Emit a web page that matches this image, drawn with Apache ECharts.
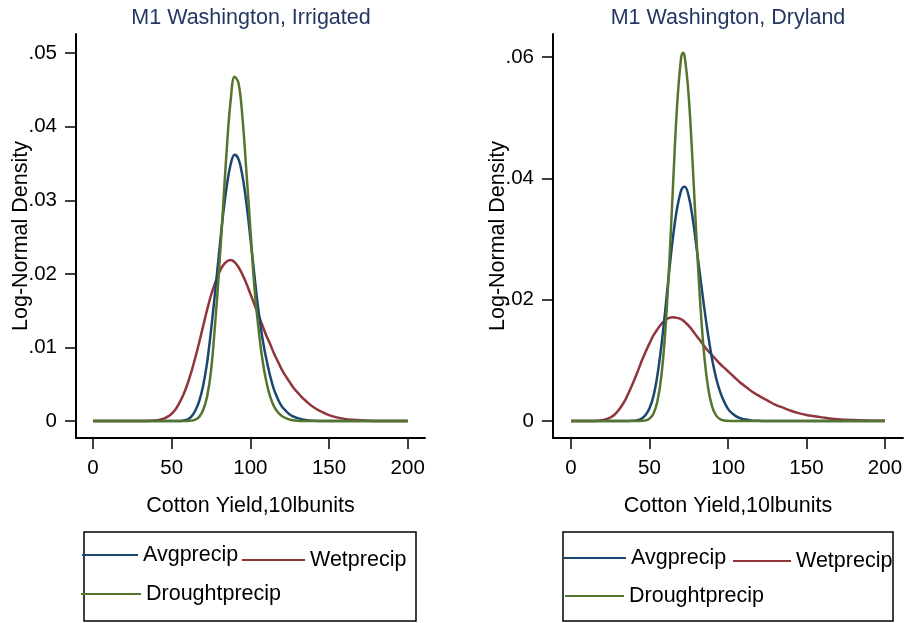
<!DOCTYPE html>
<html lang="en">
<head>
    <meta charset="UTF-8">
    <title>M1 Washington cotton yield densities</title>
    <style>
        * { padding: 0; margin: 0; }
        body { background: #fff; }
    </style>
    <script src="https://cdn.jsdelivr.net/npm/echarts@6/dist/echarts.min.js"></script>
</head>
<body>
    <div id="main" style="width: 907px; height: 623px;"></div>
    <script type="text/javascript">
        // x values (cotton yield, 10 lb units) for the irrigated panel
        var leftX = [0, 10, 20, 30, 35, 40, 42.5, 45, 47.5, 50, 52.5, 55, 57.5, 60, 62.5, 65, 67.5, 70, 72.5, 75,
            77.5, 80, 82.5, 85, 87.5, 90, 92.5, 95, 97.5, 100, 102.5, 105, 107.5, 110, 112.5, 115, 117.5, 120,
            122.5, 125, 127.5, 130, 132.5, 135, 140, 145, 150, 155, 160, 165, 170, 175, 180, 190, 200];
        var leftAvg = [0, 0, 0, 0, 0, 0, 0, 0, 0, 0, 0, 0, 0.00008, 0.0002, 0.0006, 0.0014, 0.0027, 0.0048, 0.0079, 0.0123,
            0.0173, 0.0226, 0.0277, 0.0319, 0.0349, 0.0362, 0.0356, 0.0333, 0.0296, 0.0249, 0.0200, 0.0153, 0.0115, 0.0086, 0.0062, 0.0043, 0.0030, 0.0020,
            0.0014, 0.0009, 0.0006, 0.0004, 0.00025, 0.00015, 0.00005, 0, 0, 0, 0, 0, 0, 0, 0, 0, 0];
        var leftWet = [0, 0, 0, 0, 0.00001, 0.00008, 0.00017, 0.00033, 0.0006, 0.0010, 0.0016, 0.0025, 0.0036, 0.0050, 0.0067, 0.0086, 0.0107, 0.0129, 0.0151, 0.0171,
            0.0187, 0.0201, 0.0211, 0.0217, 0.0219, 0.0216, 0.0209, 0.0199, 0.0187, 0.0173, 0.0159, 0.0145, 0.0131, 0.0117, 0.0105, 0.0092, 0.0081, 0.0070,
            0.0061, 0.0053, 0.0045, 0.0039, 0.0033, 0.0028, 0.0019, 0.0013, 0.0008, 0.0005, 0.0003, 0.00018, 0.0001, 0.00005, 0.00002, 0, 0];
        var leftDrought = [0, 0, 0, 0, 0, 0, 0, 0, 0, 0, 0, 0, 0, 0, 0.00006, 0.0002, 0.00057, 0.0015, 0.0033, 0.0068,
            0.0129, 0.0201, 0.0285, 0.0369, 0.0436, 0.0468, 0.0459, 0.0412, 0.0339, 0.0262, 0.0184, 0.0129, 0.0086, 0.0055, 0.0034, 0.0020, 0.0012, 0.0007,
            0.0004, 0.0002, 0.0001, 0.00005, 0.00002, 0, 0, 0, 0, 0, 0, 0, 0, 0, 0, 0, 0];

        // x values for the dryland panel
        var rightX = [0, 10, 15, 20, 22.5, 25, 27.5, 30, 32.5, 35, 37.5, 40, 42.5, 45, 47.5, 50, 52.5, 55, 57.5, 60,
            62.5, 65, 67.5, 70, 71.25, 72.5, 75, 77.5, 80, 82.5, 85, 87.5, 90, 92.5, 95, 97.5, 100, 102.5, 105, 107.5, 110,
            112.5, 115, 117.5, 120, 125, 130, 135, 140, 145, 150, 155, 160, 165, 170, 175, 180, 185, 190, 195, 200];
        var rightAvg = [0, 0, 0, 0, 0, 0, 0, 0, 0, 0, 0.00002, 0.00005, 0.00015, 0.0004, 0.0010, 0.0021, 0.0041, 0.0075, 0.0123, 0.0182,
            0.0246, 0.0304, 0.0350, 0.0379, 0.0385, 0.0386, 0.0370, 0.0334, 0.0285, 0.0234, 0.0184, 0.0139, 0.0100, 0.0070, 0.0048, 0.0032, 0.0020, 0.0013, 0.0008, 0.0005, 0.0003,
            0.0002, 0.0001, 0.00005, 0.00003, 0, 0, 0, 0, 0, 0, 0, 0, 0, 0, 0, 0, 0, 0, 0, 0];
        var rightWet = [0, 0, 0.00002, 0.00014, 0.0003, 0.00058, 0.0010, 0.0017, 0.0026, 0.0037, 0.0051, 0.0066, 0.0082, 0.0099, 0.0114, 0.0128, 0.0141, 0.0151, 0.0160, 0.0166,
            0.0170, 0.0171, 0.0170, 0.0168, 0.0166, 0.0163, 0.0157, 0.0149, 0.0140, 0.0132, 0.0123, 0.0115, 0.0108, 0.0101, 0.0094, 0.0088, 0.0082, 0.0076, 0.0070, 0.0064, 0.0059,
            0.0054, 0.0049, 0.0045, 0.0041, 0.0034, 0.0027, 0.0022, 0.0017, 0.0013, 0.0010, 0.0008, 0.0006, 0.0004, 0.0003, 0.0002, 0.00015, 0.0001, 0.00007, 0.00005, 0.00003];
        var rightDrought = [0, 0, 0, 0, 0, 0, 0, 0, 0, 0, 0, 0, 0, 0.00003, 0.0001, 0.0004, 0.0012, 0.0032, 0.0073, 0.0146,
            0.0256, 0.0390, 0.0517, 0.0596, 0.0607, 0.0599, 0.0534, 0.0423, 0.0298, 0.0187, 0.0104, 0.0052, 0.0023, 0.0009, 0.0003, 0.0001, 0.00003, 0, 0, 0, 0,
            0, 0, 0, 0, 0, 0, 0, 0, 0, 0, 0, 0, 0, 0, 0, 0, 0, 0, 0, 0];

        var xTicks = [0, 50, 100, 150, 200];
        var leftYTicks = [0, 0.01, 0.02, 0.03, 0.04, 0.05];
        var rightYTicks = [0, 0.02, 0.04, 0.06];
        var titles = ['M1 Washington, Irrigated', 'M1 Washington, Dryland'];
        var seriesNames = ['Avgprecip', 'Wetprecip', 'Droughtprecip'];
        var colors = ['#1a476f', '#90353b', '#55752f'];

        var font = 'Liberation Sans, Arial, sans-serif';

        function pairs(xs, ys) {
            return xs.map(function (x, i) { return [x, ys[i]]; });
        }

        function yLabel(v) {
            return v === 0 ? '0' : String(v).replace(/^0/, '');
        }

        function xAxisOf(idx, min, max) {
            return {
                type: 'value', gridIndex: idx, min: min, max: max,
                name: 'Cotton Yield,10lbunits', nameLocation: 'middle', nameGap: 57,
                nameMoveOverlap: false,
                nameTextStyle: { fontSize: 21.5, color: '#000', fontFamily: font },
                axisLine: { onZero: false, lineStyle: { color: '#000', width: 2 } },
                axisTick: { customValues: xTicks, length: 11, lineStyle: { color: '#000', width: 1.5 } },
                axisLabel: { customValues: xTicks, fontSize: 20.5, color: '#000', fontFamily: font, margin: 20 },
                splitLine: { show: false }
            };
        }

        function yAxisOf(idx, min, max, ticks, gap) {
            return {
                type: 'value', gridIndex: idx, min: min, max: max,
                name: 'Log-Normal Density', nameLocation: 'middle', nameGap: gap,
                nameMoveOverlap: false,
                nameTextStyle: { fontSize: 21.5, color: '#000', fontFamily: font },
                axisLine: { onZero: false, lineStyle: { color: '#000', width: 2 } },
                axisTick: { customValues: ticks, length: 11, lineStyle: { color: '#000', width: 1.5 } },
                axisLabel: { customValues: ticks, formatter: yLabel, fontSize: 20.5, color: '#000', fontFamily: font, margin: 19 },
                splitLine: { show: false }
            };
        }

        function lineSeries(name, color, axis, data) {
            return {
                name: name, type: 'line', xAxisIndex: axis, yAxisIndex: axis,
                data: data, showSymbol: false, symbol: 'none', smooth: 0.4,
                color: color,
                lineStyle: { color: color, width: 2.5 }
            };
        }

        function legendOf(name, left, top, width) {
            return {
                data: [name], left: left, top: top, padding: 0,
                icon: 'rect', itemWidth: width, itemHeight: 2,
                selectedMode: false,
                textStyle: { fontSize: 21.5, color: '#000', fontFamily: font, lineHeight: 24 }
            };
        }

        var myChart = echarts.init(document.getElementById('main'));

        var option = {
            animation: false,
            backgroundColor: '#fff',
            textStyle: { fontFamily: font },
            title: [
                { text: titles[0], left: 251, top: 7, padding: 0, textAlign: 'center',
                  textStyle: { fontSize: 21.5, fontWeight: 'normal', color: '#233762', fontFamily: font } },
                { text: titles[1], left: 728, top: 7, padding: 0, textAlign: 'center',
                  textStyle: { fontSize: 21.5, fontWeight: 'normal', color: '#233762', fontFamily: font } }
            ],
            grid: [
                { left: 76, top: 34, width: 349, height: 404 },
                { left: 553, top: 34, width: 350, height: 404 }
            ],
            xAxis: [xAxisOf(0, -10.8, 211), xAxisOf(1, -11.5, 211.5)],
            yAxis: [yAxisOf(0, -0.0023, 0.0526, leftYTicks, 44), yAxisOf(1, -0.0028, 0.0638, rightYTicks, 44)],
            legend: [
                legendOf(seriesNames[0], 82, 543, 56),
                legendOf(seriesNames[1], 242, 548, 63),
                legendOf(seriesNames[2], 81, 582, 60),
                legendOf(seriesNames[0], 564, 546, 62),
                legendOf(seriesNames[1], 733, 549, 58),
                legendOf(seriesNames[2], 565, 584, 59)
            ],
            graphic: [
                { type: 'rect', shape: { x: 84, y: 532, width: 332, height: 89 }, style: { fill: 'none', stroke: '#000', lineWidth: 1.5 } },
                { type: 'rect', shape: { x: 563, y: 532, width: 330, height: 89 }, style: { fill: 'none', stroke: '#000', lineWidth: 1.5 } }
            ],
            series: [
                lineSeries(seriesNames[1], colors[1], 0, pairs(leftX, leftWet)),
                lineSeries(seriesNames[0], colors[0], 0, pairs(leftX, leftAvg)),
                lineSeries(seriesNames[2], colors[2], 0, pairs(leftX, leftDrought)),
                lineSeries(seriesNames[1], colors[1], 1, pairs(rightX, rightWet)),
                lineSeries(seriesNames[0], colors[0], 1, pairs(rightX, rightAvg)),
                lineSeries(seriesNames[2], colors[2], 1, pairs(rightX, rightDrought))
            ]
        };

        myChart.setOption(option);
    </script>
</body>
</html>
